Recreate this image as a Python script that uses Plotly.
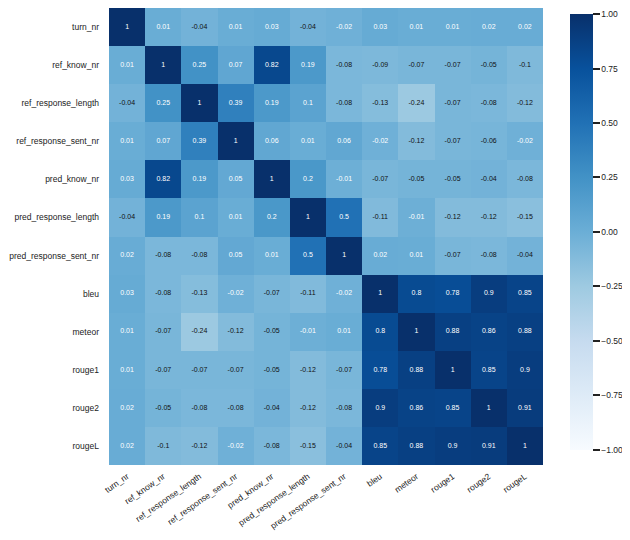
import plotly.graph_objects as go

# === DATA ===
labels = ["turn_nr", "ref_know_nr", "ref_response_length", "ref_response_sent_nr",
          "pred_know_nr", "pred_response_length", "pred_response_sent_nr",
          "bleu", "meteor", "rouge1", "rouge2", "rougeL"]

row_turn_nr = [1, 0.01, -0.04, 0.01, 0.03, -0.04, -0.02, 0.03, 0.01, 0.01, 0.02, 0.02]
row_ref_know_nr = [0.01, 1, 0.25, 0.07, 0.82, 0.19, -0.08, -0.09, -0.07, -0.07, -0.05, -0.1]
row_ref_response_length = [-0.04, 0.25, 1, 0.39, 0.19, 0.1, -0.08, -0.13, -0.24, -0.07, -0.08, -0.12]
row_ref_response_sent_nr = [0.01, 0.07, 0.39, 1, 0.06, 0.01, 0.06, -0.02, -0.12, -0.07, -0.06, -0.02]
row_pred_know_nr = [0.03, 0.82, 0.19, 0.05, 1, 0.2, -0.01, -0.07, -0.05, -0.05, -0.04, -0.08]
row_pred_response_length = [-0.04, 0.19, 0.1, 0.01, 0.2, 1, 0.5, -0.11, -0.01, -0.12, -0.12, -0.15]
row_pred_response_sent_nr = [0.02, -0.08, -0.08, 0.05, 0.01, 0.5, 1, 0.02, 0.01, -0.07, -0.08, -0.04]
row_bleu = [0.03, -0.08, -0.13, -0.02, -0.07, -0.11, -0.02, 1, 0.8, 0.78, 0.9, 0.85]
row_meteor = [0.01, -0.07, -0.24, -0.12, -0.05, -0.01, 0.01, 0.8, 1, 0.88, 0.86, 0.88]
row_rouge1 = [0.01, -0.07, -0.07, -0.07, -0.05, -0.12, -0.07, 0.78, 0.88, 1, 0.85, 0.9]
row_rouge2 = [0.02, -0.05, -0.08, -0.08, -0.04, -0.12, -0.08, 0.9, 0.86, 0.85, 1, 0.91]
row_rougeL = [0.02, -0.1, -0.12, -0.02, -0.08, -0.15, -0.04, 0.85, 0.88, 0.9, 0.91, 1]

corr = [row_turn_nr, row_ref_know_nr, row_ref_response_length, row_ref_response_sent_nr,
        row_pred_know_nr, row_pred_response_length, row_pred_response_sent_nr,
        row_bleu, row_meteor, row_rouge1, row_rouge2, row_rougeL]

# matplotlib "Blues"
blues = [[0.0, "#f7fbff"], [0.125, "#deebf7"], [0.25, "#c6dbef"], [0.375, "#9ecae1"],
         [0.5, "#6baed6"], [0.625, "#4292c6"], [0.75, "#2171b5"], [0.875, "#08519c"],
         [1.0, "#08306b"]]

n = len(labels)

fig = go.Figure()

fig.add_trace(go.Heatmap(
    z=corr, x=labels, y=labels,
    zmin=-1.001, zmax=1.001,  # tiny pad so the 1.00 / -1.00 ticks are kept
    colorscale=blues,
    xgap=0, ygap=0,
    hoverinfo="skip",
    colorbar=dict(
        # pushed down a few px so the top "1.00" label is not clipped
        x=1.062, xanchor="left", xref="paper", xpad=0,
        y=0.987, yanchor="top", ypad=0, len=0.954, lenmode="fraction",
        thickness=23, outlinewidth=0,
        tickvals=[-1, -0.75, -0.5, -0.25, 0, 0.25, 0.5, 0.75, 1],
        tickformat=".2f",
        ticks="outside", ticklen=7, tickwidth=1.5, tickcolor="#222",
        tickfont=dict(size=8.5, color="#222"),
    ),
))

# --- cell annotations (seaborn-style) ---
xs, ys, txt, cols = [], [], [], []
for i, row in enumerate(corr):
    for j, v in enumerate(row):
        xs.append(labels[j])
        ys.append(labels[i])
        txt.append(format(v, ".2g"))
        cols.append("#111111" if v <= -0.03 else "white")

fig.add_trace(go.Scatter(
    x=xs, y=ys, mode="text", text=txt,
    textfont=dict(size=7, color=cols, family="Liberation Sans, Arial, sans-serif"),
    hoverinfo="skip", showlegend=False,
))

# === Layout ===
# page body has an 8px margin, so the figure is a bit smaller than the window
fig.update_layout(
    width=622, height=532,
    margin=dict(l=101, r=87, t=0, b=75, autoexpand=False),
    plot_bgcolor="white", paper_bgcolor="white",
    font=dict(family="Liberation Sans, Arial, sans-serif", size=8.5, color="#222"),
    xaxis=dict(tickangle=-35, showgrid=False, zeroline=False, ticks="",
               range=[-0.5, n - 0.5],
               automargin=False, tickfont=dict(size=8.5), ticklabelstandoff=4),
    yaxis=dict(showgrid=False, zeroline=False, ticks="",
               range=[n - 0.5, -0.5],
               automargin=False, tickfont=dict(size=8.5), ticklabelstandoff=9),
)

fig.write_html("out.html")
